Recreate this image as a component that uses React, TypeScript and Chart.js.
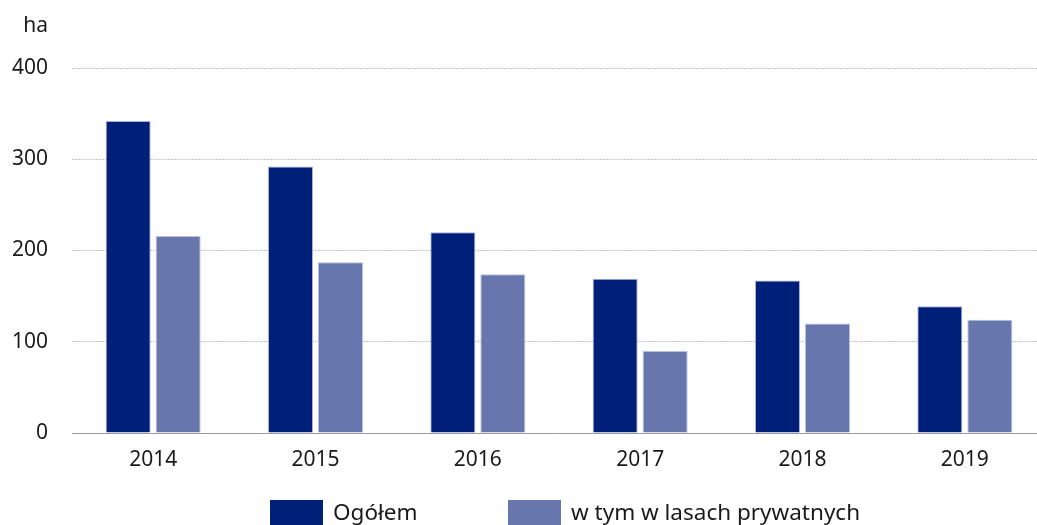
import React, { useEffect, useRef } from "react";
import { Chart, registerables } from "chart.js";

Chart.register(...registerables);

const categories = ["2014", "2015", "2016", "2017", "2018", "2019"];
const totalValues = [342, 292, 220, 169, 167, 139];
const privateValues = [216, 187, 174, 90, 120, 124];
const seriesLabels = ["Ogółem", "w tym w lasach prywatnych"];
const unitLabel = "ha";

const DARK = "#001F78";
const LIGHT = "#6777AD";
const FONT = "'Noto Sans', 'Open Sans', sans-serif";
const TEXT = "#1a1a1a";

const overlayPlugin = {
  id: "overlay",
  afterDraw(chart: any) {
    const ctx = chart.ctx;
    ctx.save();
    ctx.fillStyle = TEXT;
    ctx.font = `21px ${FONT}`;
    ctx.textAlign = "right";
    ctx.textBaseline = "middle";
    ctx.fillText(unitLabel, 48, 26);
    // legend
    const items = [
      { x: 270, color: DARK, label: seriesLabels[0] },
      { x: 508, color: LIGHT, label: seriesLabels[1] },
    ];
    ctx.font = `22.5px ${FONT}`;
    ctx.textAlign = "left";
    items.forEach((it) => {
      ctx.fillStyle = it.color;
      ctx.fillRect(it.x, 500, 53, 30);
      ctx.fillStyle = TEXT;
      ctx.fillText(it.label, it.x + 63, 514);
    });
    ctx.restore();
  },
};

export default function App() {
  const ref = useRef<HTMLCanvasElement>(null);
  useEffect(() => {
    if (!ref.current) return;
    const chart = new Chart(ref.current, {
      type: "bar",
      data: {
        labels: categories,
        datasets: [
          {
            label: seriesLabels[0],
            data: totalValues,
            backgroundColor: DARK,
            borderColor: "#a7b1da",
            borderWidth: 1,
          },
          {
            label: seriesLabels[1],
            data: privateValues,
            backgroundColor: LIGHT,
            borderColor: "#b7c0e4",
            borderWidth: 1,
          },
        ],
      },
      options: {
        responsive: false,
        animation: false,
        layout: { padding: { top: 68, left: 0, right: 0, bottom: 0 } },
        datasets: {
          bar: { categoryPercentage: 0.616, barPercentage: 0.9 },
        },
        plugins: {
          legend: { display: false },
          tooltip: { enabled: false },
        },
        scales: {
          x: {
            grid: { display: false, drawTicks: false },
            border: { display: true, color: "#9a9a9a", width: 1 },
            ticks: {
              color: TEXT,
              font: { family: FONT, size: 21 },
              padding: 14,
            },
            afterFit: (s: any) => {
              s.height = 525 - 433;
            },
          },
          y: {
            min: 0,
            max: 400,
            ticks: {
              stepSize: 100,
              color: TEXT,
              font: { family: FONT, size: 21 },
              padding: 24,
            },
            grid: {
              drawTicks: false,
              color: (c: any) => (c.tick && c.tick.value === 0 ? "rgba(0,0,0,0)" : "#c4c4c4"),
              lineWidth: 1,
            },
            border: { display: false, dash: [2, 1] },
            afterFit: (s: any) => {
              s.width = 72;
            },
          },
        },
      },
      plugins: [overlayPlugin],
    });
    return () => chart.destroy();
  }, []);
  return (
    <div
      style={{
        position: "fixed",
        left: 0,
        top: 0,
        width: 1037,
        height: 525,
        overflow: "hidden",
        background: "#fff",
      }}
    >
      <canvas ref={ref} width={1046} height={525} style={{ display: "block" }} />
    </div>
  );
}
